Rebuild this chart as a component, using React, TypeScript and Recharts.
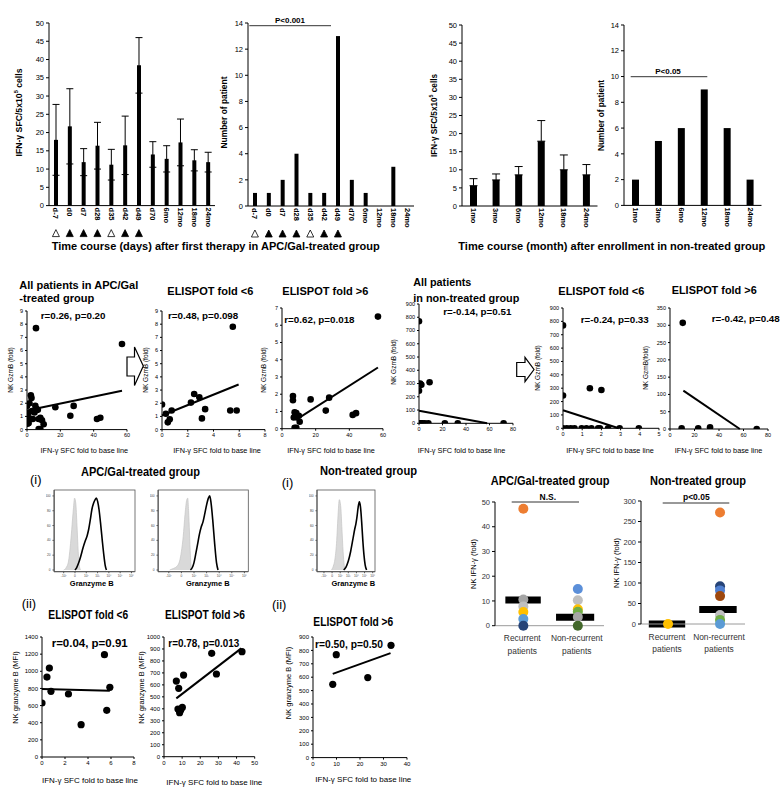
import React from 'react';
import {
  BarChart, Bar, XAxis, YAxis, ErrorBar,
  ScatterChart, Scatter, ReferenceLine,
  ComposedChart, Area, Line,
} from 'recharts';

const FONT = '"Liberation Sans", Arial, Helvetica, sans-serif';

// ---- A: time course bars ----
const dayCats = ['d-7', 'd0', 'd7', 'd28', 'd35', 'd42', 'd49', 'd70', '6mo', '12mo', '18mo', '24mo'];
const dayMarks = ['open', 'fill', 'fill', 'fill', 'open', 'fill', 'fill', '', '', '', '', ''];
const daySfc = [18, 21.7, 11.9, 16.4, 11.2, 16.5, 38.4, 14, 12.8, 17.3, 12.4, 11.9];
const daySfcErr = [9.7, 10.3, 3.7, 6.4, 4.2, 8, 7.6, 3.5, 3.6, 6.4, 2.9, 2.7];
const dayPeakCount = [1, 1, 2, 4, 1, 1, 13, 2, 1, 0, 3, 0];

const monthCats = ['1mo', '3mo', '6mo', '12mo', '18mo', '24mo'];
const monthSfc = [5.6, 7.2, 8.6, 17.9, 10, 8.6];
const monthSfcErr = [1.95, 1.65, 2.3, 5.7, 4.1, 2.85];
const monthPeakCount = [2, 5, 6, 9, 6, 2];

const sfcTicks = [0, 5, 10, 15, 20, 25, 30, 35, 40, 45, 50];
const countTicks = [0, 2, 4, 6, 8, 10, 12, 14];

// ---- B: NK GzmB vs IFN-g SFC fold ----
const apcAll = [[5.4, 7.7], [57, 6.5], [2.3, 2.6], [2.7, 2.4], [0, 1.8], [1.5, 2.0], [5, 1.8], [5.5, 1.6], [6.5, 1.5], [4.5, 1.3],
  [0.5, 1.2], [1.5, 0.85], [0.3, 0.45], [1, 0.5], [3, 1.4], [3.5, 0.8], [7, 0.8], [8, 0.9], [9, 0.7], [10, 0.4], [7, 0.05],
  [8, 0.05], [17, 1.7], [28, 1.8], [26, 1.05], [42, 0.8], [44, 0.9]];
const apcAllFit = [[0, 1.45], [57, 2.95]];
const apcLow = [[0, 1.9], [0.3, 1.2], [0.45, 0.55], [0.6, 0.78], [0.75, 1.45], [2.25, 2.05], [2.5, 2.7], [2.9, 2.45],
  [3.1, 0.85], [3.35, 1.55], [5.3, 1.45], [5.8, 1.45], [5.5, 7.8]];
const apcLowFit = [[0, 1.07], [5.95, 3.42]];
const apcHigh = [[6.5, 1.9], [6.5, 1.65], [7, 0.65], [7.5, 0.95], [8, 0.8], [8.5, 0.9], [7.5, 0.05], [8.5, 0.05], [10, 0.75],
  [10.5, 0.4], [17, 1.7], [26, 1.05], [28, 1.8], [42, 0.8], [44, 0.9], [57, 6.5]];
const apcHighFit = [[8, 0.5], [57, 3.55]];
const nonAll = [[0, 770], [0, 245], [1, 300], [2, 290], [9, 310], [0, 0], [1, 0], [2, 0], [3, 0], [5, 0], [8, 0], [22, 0], [33, 0], [72, 0]];
const nonAllFit = [[0, 95], [58, 0]];
const nonLow = [[0, 770], [0, 245], [1.4, 300], [2.0, 287], [0, 0], [0.2, 0], [0.4, 0], [0.6, 0], [0.97, 0], [1.22, 0], [1.48, 0],
  [1.83, 0], [1.92, 0], [2.35, 0], [2.95, 0], [3.95, 0]];
const nonLowFit = [[0, 135], [2.9, 0]];
const nonHigh = [[10.4, 307], [9.5, 2], [23, 2], [32.7, 5], [70.8, 0]];
const nonHighFit = [[10.9, 111], [57, 0]];

// ---- C: NK granzyme B MFI ----
const mfiApcLow = [[0, 630], [0.43, 933], [0.64, 1038], [0.78, 766], [2.3, 735], [3.4, 377], [5.43, 1194], [5.63, 545], [5.9, 813]];
const mfiApcLowFit = [[0, 793], [5.9, 772]];
const mfiApcHigh = [[6.8, 632], [8.1, 571], [7.7, 398], [9.2, 390], [8.6, 368], [10.1, 412], [10.8, 682], [26.3, 864], [28.9, 691], [43, 877]];
const mfiApcHighFit = [[6.8, 487], [42.6, 905]];
const mfiNonHigh = [[8.4, 547], [9.9, 768], [23.3, 597], [33.2, 838]];
const mfiNonHighFit = [[8.4, 625], [33, 780]];

// ---- flow histograms (% of max vs channel) ----
const isoApc1 = [[12, 0], [15, 3], [18, 12], [20, 30], [22, 55], [24, 82], [25.5, 97], [27, 90], [28.5, 60], [30, 25], [31.5, 5], [33, 0]];
const gzbApc1 = [[26, 0], [28, 3], [30, 8], [33, 18], [36, 30], [39, 40], [41, 46], [43, 55], [45, 68], [47, 82], [49, 90], [51, 95],
  [52.5, 97], [54, 93], [56, 80], [58, 60], [60, 38], [62, 18], [63.5, 6], [65, 0]];
const isoApc2 = [[13, 0], [17, 2], [21, 5], [24, 12], [26, 25], [28, 45], [30, 75], [32, 95], [33, 97], [34, 80], [35, 50], [36, 20], [37, 3], [38, 0]];
const gzbApc2 = [[36, 0], [38, 3], [40, 10], [42, 22], [44, 35], [46, 48], [48, 58], [50, 65], [52, 76], [54, 88], [56, 97], [57.5, 100],
  [59, 90], [61, 65], [63, 35], [65, 10], [66.7, 0]];
const isoNon = [[25, 0], [28, 5], [31, 15], [34, 40], [36, 70], [38.5, 95], [41, 85], [43, 55], [45, 25], [47, 6], [48.5, 0]];
const gzbNon = [[46, 0], [50, 4], [54, 12], [58, 25], [62, 42], [65, 55], [67, 62], [69, 72], [71, 85], [73, 92], [75, 85], [77, 65],
  [79, 40], [81, 20], [83, 7], [85.5, 0]];
const histYTicks = [0, 20, 40, 60, 80, 100];
const histXTicks = [12, 26, 40, 54, 68, 82, 96];
const histXLabels = ['-10²', '0', '10²', '10³', '10⁴', '10⁵', '10⁶'];

// ---- D: NK IFN-g fold, recurrent vs non-recurrent ----
const groupLabels = ['Recurrent patients', 'Non-recurrent patients'];
const apcRecurrent = [47.3, 10.6, 7.8, 5.5, 2.7, 0];
const apcRecurrentColors = ['#ED7D31', '#A5A5A5', '#BFBFBF', '#FFC000', '#5B9BD5', '#264478'];
const apcNonRecurrent = [14.8, 10.3, 6.6, 5.6, 3.5, 0];
const apcNonRecurrentColors = ['#5B8FD9', '#BFBFBF', '#FFC000', '#70AD47', '#A5A5A5', '#43682B'];
const apcMeans = [10.4, 3.4];
const nonRecurrent = [0];
const nonRecurrentColors = ['#FFC000'];
const nonNonRecurrent = [272, 92, 82, 68, 22, 10, 0];
const nonNonRecurrentColors = ['#ED7D31', '#264478', '#4F7FD0', '#9E480E', '#BFBFBF', '#70AD47', '#5B9BD5'];
const nonMeans = [0, 35.5];

const AX = { stroke: '#000', strokeWidth: 1 };
const tk = (fs: number, fill = '#000') => ({ fontSize: fs, fill, fontFamily: FONT });

// place a chart so that its plot area lands on box = [left, top, right, bottom]
function at(box: number[], yw: number, xh: number) {
  const [l, t, r, b] = box;
  const m = { top: 6, right: 6, bottom: 0, left: 0 };
  return {
    style: { position: 'absolute' as const, left: l - yw, top: t - m.top },
    width: r - l + yw + m.right,
    height: b - t + m.top + xh,
    margin: m,
  };
}

function CatTick(props: any) {
  const { x, y, payload, cats, marks } = props;
  const i = cats.indexOf(payload.value);
  const m = marks ? marks[i] : '';
  return (
    <g>
      <text x={x} y={y} transform={`rotate(90 ${x} ${y})`} textAnchor="start" dominantBaseline="central"
        fontSize={7.5} fontWeight={700} fontFamily={FONT} fill="#000">{payload.value}</text>
      {m && (
        <polygon points={`${x - 3.5},${y + 29} ${x + 3.5},${y + 29} ${x},${y + 22}`}
          fill={m === 'fill' ? '#000' : '#fff'} stroke="#000" strokeWidth={0.8} />
      )}
    </g>
  );
}

function BarPanel({ box, cats, vals, errs, ticks, bar, cap, marks }: any) {
  const data = cats.map((c: string, i: number) => ({ c, v: vals[i], e: errs ? errs[i] : 0 }));
  const p = at(box, 18, 40);
  return (
    <div style={p.style}>
      <BarChart width={p.width} height={p.height} margin={p.margin} data={data} barCategoryGap={0}>
        <XAxis dataKey="c" interval={0} tickLine={false} tickSize={0} tickMargin={2} axisLine={AX} height={40}
          tick={<CatTick cats={cats} marks={marks} />} />
        <YAxis domain={[0, ticks[ticks.length - 1]]} ticks={ticks} interval={0} width={18} tick={tk(7.5)}
          tickSize={3} axisLine={AX} tickLine={AX} />
        <Bar dataKey="v" fill="#000" barSize={bar} isAnimationActive={false}>
          {errs && <ErrorBar dataKey="e" width={cap} stroke="#000" strokeWidth={1} isAnimationActive={false} />}
        </Bar>
      </BarChart>
    </div>
  );
}

function ScatterPanel({ box, pts, fit, xd, xt, yd, yt, r = 3.3, fs = 5.5, yw = 16, lw = 2 }: any) {
  const p = at(box, yw, 12);
  return (
    <div style={p.style}>
      <ScatterChart width={p.width} height={p.height} margin={p.margin}>
        <XAxis type="number" dataKey="x" domain={xd} ticks={xt} interval={0} height={12} tick={tk(fs)}
          tickSize={2} axisLine={AX} tickLine={AX} allowDataOverflow />
        <YAxis type="number" dataKey="y" domain={yd} ticks={yt} interval={0} width={yw} tick={tk(fs)}
          tickSize={2} axisLine={AX} tickLine={AX} allowDataOverflow />
        <Scatter data={pts.map(([x, y]: number[]) => ({ x, y }))} isAnimationActive={false}
          shape={(s: any) => <circle cx={s.cx} cy={s.cy} r={r} fill="#000" />} />
        <ReferenceLine segment={[{ x: fit[0][0], y: fit[0][1] }, { x: fit[1][0], y: fit[1][1] }]}
          stroke="#000" strokeWidth={lw} ifOverflow="visible" />
      </ScatterChart>
    </div>
  );
}

function HistPanel({ box, iso, stain }: any) {
  const p = at(box, 8, 10);
  return (
    <div style={p.style}>
      <ComposedChart width={p.width} height={p.height} margin={p.margin}>
        <XAxis type="number" dataKey="x" domain={[0, 100]} ticks={histXTicks} interval={0} height={10}
          tick={tk(3.2, '#444')} tickSize={1.5} axisLine={{ stroke: '#555' }} tickLine={{ stroke: '#555' }}
          tickFormatter={(v: number) => histXLabels[histXTicks.indexOf(v)]} />
        <YAxis type="number" domain={[-2.3, 108]} ticks={histYTicks} interval={0} width={8} tick={tk(3.2, '#444')}
          tickSize={1.5} axisLine={{ stroke: '#555' }} tickLine={{ stroke: '#555' }} />
        <Area data={iso.map(([x, y]: number[]) => ({ x, y }))} dataKey="y" type="monotone" baseValue={0}
          fill="#d9d9d9" fillOpacity={1} stroke="#c4c4c4" strokeWidth={0.7} isAnimationActive={false} />
        <Line data={stain.map(([x, y]: number[]) => ({ x, y }))} dataKey="y" type="monotone" stroke="#000"
          strokeWidth={1.6} dot={false} isAnimationActive={false} />
      </ComposedChart>
    </div>
  );
}

function GroupTick({ x, y, payload }: any) {
  const [a, b] = groupLabels[payload.value < 1 ? 0 : 1].split(' ');
  return (
    <text x={x} y={y} textAnchor="middle" fontSize={8.4} fontFamily={FONT} fill="#333">
      <tspan x={x} dy={13.5}>{a}</tspan>
      <tspan x={x} dy={12.5}>{b}</tspan>
    </text>
  );
}

function DotPanel({ box, g1, c1, g2, c2, means, yt, bars }: any) {
  const pts = [
    ...g1.map((y: number, i: number) => ({ x: 0.52, y, c: c1[i] })),
    ...g2.map((y: number, i: number) => ({ x: 1.52, y, c: c2[i] })),
  ];
  const p = at(box, 18, 30);
  return (
    <div style={p.style}>
      <ScatterChart width={p.width} height={p.height} margin={p.margin}>
        <XAxis type="number" dataKey="x" domain={[0, 2]} ticks={[0.5, 1.5]} interval={0} height={30}
          tick={<GroupTick />} tickLine={false} tickSize={0} axisLine={{ stroke: '#9a9a9a' }} />
        <YAxis type="number" dataKey="y" domain={[0, yt[yt.length - 1]]} ticks={yt} interval={0} width={18}
          tick={tk(7.5, '#333')} tickSize={3} axisLine={AX} tickLine={AX} />
        <Scatter data={pts} isAnimationActive={false}
          shape={(s: any) => <circle cx={s.cx} cy={s.cy} r={5} fill={s.payload.c} />} />
        <ReferenceLine segment={[{ x: bars[0], y: means[0] }, { x: bars[1], y: means[0] }]} stroke="#000"
          strokeWidth={7} ifOverflow="visible" />
        <ReferenceLine segment={[{ x: bars[2], y: means[1] }, { x: bars[3], y: means[1] }]} stroke="#000"
          strokeWidth={7} ifOverflow="visible" />
      </ScatterChart>
    </div>
  );
}

function T({ x, y, s, b = true, a = 'start', len, rot, mid, children }: any) {
  return (
    <text x={x} y={y} fontSize={s} fontWeight={b ? 700 : 400} textAnchor={a} fontFamily={FONT} fill="#000"
      textLength={len} lengthAdjust={len ? 'spacingAndGlyphs' : undefined}
      dominantBaseline={mid ? 'central' : undefined}
      transform={rot ? `rotate(-90 ${x} ${y})` : undefined}>{children}</text>
  );
}

const SFC_LABEL = (
  <>IFN-γ SFC/5x10<tspan dy={-3} fontSize={5.5}>5</tspan><tspan dy={3}> cells</tspan></>
);

function Overlay() {
  const xl = 'IFN-γ SFC fold to base line';
  return (
    <svg width={781} height={787} style={{ position: 'absolute', left: 0, top: 0, pointerEvents: 'none' }}>
      {/* top row */}
      <T x={19} y={112.5} s={8.5} rot mid a="middle" len={88}>{SFC_LABEL}</T>
      <T x={223.5} y={112.5} s={8.5} rot mid a="middle" len={72}>Number of patient</T>
      <T x={433.5} y={115.5} s={8.5} rot mid a="middle" len={83}>{SFC_LABEL}</T>
      <T x={601} y={115.5} s={8.5} rot mid a="middle" len={71}>Number of patient</T>
      <T x={290} y={23} s={8} a="middle">P&lt;0.001</T>
      <line x1={249.3} x2={331} y1={25.7} y2={25.7} stroke="#333" strokeWidth={1} />
      <T x={668} y={74} s={8} a="middle">P&lt;0.05</T>
      <line x1={630.7} x2={707.3} y1={76.7} y2={76.7} stroke="#333" strokeWidth={1} />
      <T x={51.7} y={249.5} s={10} len={328}>Time course (days) after first therapy in APC/Gal-treated group</T>
      <T x={458.3} y={249.5} s={10} len={307}>Time course (month) after enrollment in non-treated group</T>

      {/* middle row */}
      <T x={19.3} y={289} s={11.5} len={119}>All patients in APC/Gal</T>
      <T x={19.3} y={302} s={11.5} len={75}>-treated group</T>
      <T x={167.3} y={294.5} s={11.5} len={86}>ELISPOT fold &lt;6</T>
      <T x={282.3} y={294.5} s={11.5} len={86}>ELISPOT fold &gt;6</T>
      <T x={413.3} y={285.5} s={11.5} len={58}>All patients</T>
      <T x={413.3} y={302} s={11.5} len={106}>in non-treated group</T>
      <T x={558.3} y={294.5} s={11.5} len={86}>ELISPOT fold &lt;6</T>
      <T x={671.7} y={294} s={11.5} len={85}>ELISPOT fold &gt;6</T>
      <T x={40.7} y={319} s={9.8}>r=0.26, p=0.20</T>
      <T x={168} y={319} s={9.8}>r=0.48, p=0.098</T>
      <T x={284.3} y={322.7} s={9.8}>r=0.62, p=0.018</T>
      <T x={443.3} y={315} s={9.8}>r=-0.14, p=0.51</T>
      <T x={580.7} y={323.3} s={9.8}>r=-0.24, p=0.33</T>
      <T x={711.7} y={321.7} s={9.8}>r=-0.42, p=0.48</T>
      {[84.3, 217, 331, 461.5, 610, 718.5].map((x) => (
        <T key={x} x={x} y={453} s={7.3} b={false} a="middle">{xl}</T>
      ))}
      {[[10, 370], [145, 370], [263.5, 370], [393, 362], [537, 368], [645, 368]].map(([x, y], i) => (
        <T key={i} x={x} y={y} s={6.5} b={false} rot mid a="middle">{i === 5 ? 'NK GzmB(fold)' : 'NK GzmB (fold)'}</T>
      ))}
      <polygon points="127,357 134.5,357 134.5,347 143.3,366 134.5,385.5 134.5,376 127,376" fill="#fff" stroke="#000" strokeWidth={1.2} />
      <polygon points="516.7,362.5 525,362.5 525,357.3 534,369.5 525,381.7 525,376.5 516.7,376.5" fill="#fff" stroke="#000" strokeWidth={1.2} />

      {/* histograms */}
      <T x={30} y={484} s={13} b={false}>(i)</T>
      <T x={81} y={476} s={12.5} len={119}>APC/Gal-treated group</T>
      <T x={281.7} y={486.5} s={13} b={false}>(i)</T>
      <T x={320} y={475} s={12.5} len={97}>Non-treated group</T>
      <rect x={54.3} y={490} width={80.7} height={81.7} fill="none" stroke="#555" strokeWidth={0.8} />
      <rect x={158.3} y={490} width={90} height={81.7} fill="none" stroke="#555" strokeWidth={0.8} />
      <rect x={317} y={490} width={58} height={81.7} fill="none" stroke="#555" strokeWidth={0.8} />
      <T x={91.7} y={586} s={7.5} a="middle">Granzyme B</T>
      <T x={207.8} y={586} s={7.5} a="middle">Granzyme B</T>
      <T x={353.3} y={585.7} s={7.5} a="middle">Granzyme B</T>

      {/* bottom scatter */}
      <T x={21.7} y={608} s={13} b={false}>(ii)</T>
      <T x={272} y={609} s={13} b={false}>(ii)</T>
      <T x={48.3} y={618.5} s={12.5} len={80}>ELISPOT fold &lt;6</T>
      <T x={165} y={618.5} s={12.5} len={80}>ELISPOT fold &gt;6</T>
      <T x={313.3} y={626} s={12.5} len={80}>ELISPOT fold &gt;6</T>
      <T x={51.7} y={647.3} s={11.5} len={76}>r=0.04, p=0.91</T>
      <T x={168.3} y={647} s={11} len={71}>r=0.78, p=0.013</T>
      <T x={315} y={648.3} s={11} len={68}>r=0.50, p=0.50</T>
      <T x={90} y={783.3} s={8} b={false} a="middle">{xl}</T>
      <T x={214.3} y={785} s={8} b={false} a="middle">{xl}</T>
      <T x={363.3} y={781.7} s={8} b={false} a="middle">{xl}</T>
      <T x={15} y={687.5} s={7.5} b={false} rot mid a="middle">NK granzyme B (MFI)</T>
      <T x={141.7} y={687.5} s={7.5} b={false} rot mid a="middle">NK granzyme B (MFI)</T>
      <T x={288.3} y={683} s={7.5} b={false} rot mid a="middle">NK granzyme B (MFI)</T>

      {/* D */}
      <T x={490.7} y={485} s={12.5} len={118.7}>APC/Gal-treated group</T>
      <T x={650} y={485} s={12.5} len={96}>Non-treated group</T>
      <T x={547.8} y={500} s={8.5} a="middle">N.S.</T>
      <line x1={511.7} x2={579} y1={502} y2={502} stroke="#333" strokeWidth={1} />
      <T x={696.3} y={500} s={8.5} a="middle">p&lt;0.05</T>
      <line x1={662.7} x2={729.3} y1={503} y2={503} stroke="#333" strokeWidth={1} />
      <T x={473} y={564} s={7.5} b={false} rot mid a="middle">NK IFN-γ (fold)</T>
      <T x={616} y={563} s={7.5} b={false} rot mid a="middle">NK IFN-γ (fold)</T>
    </svg>
  );
}

export default function App() {
  return (
    <div style={{ position: 'absolute', left: 0, top: 0, width: 781, height: 787, background: '#fff', fontFamily: FONT, overflow: 'hidden' }}>
      <BarPanel box={[48.5, 23, 214.5, 205.6]} cats={dayCats} vals={daySfc} errs={daySfcErr} ticks={sfcTicks} bar={4} cap={3.5} marks={dayMarks} />
      <BarPanel box={[248, 23, 414, 206]} cats={dayCats} vals={dayPeakCount} ticks={countTicks} bar={4} marks={dayMarks} />
      <BarPanel box={[462, 25, 597.5, 206]} cats={monthCats} vals={monthSfc} errs={monthSfcErr.map((e) => [0, e])} ticks={sfcTicks} bar={7} cap={4} />
      <BarPanel box={[623.5, 25.3, 761, 205.7]} cats={monthCats} vals={monthPeakCount} ticks={countTicks} bar={7} />

      <ScatterPanel box={[27, 310.7, 127, 429.3]} pts={apcAll} fit={apcAllFit} xd={[0, 60]} xt={[0, 20, 40, 60]} yd={[0, 9]} yt={[0, 1, 2, 3, 4, 5, 6, 7, 8, 9]} />
      <ScatterPanel box={[162, 310.7, 265, 429.3]} pts={apcLow} fit={apcLowFit} xd={[0, 8]} xt={[0, 2, 4, 6, 8]} yd={[0, 9]} yt={[0, 1, 2, 3, 4, 5, 6, 7, 8, 9]} />
      <ScatterPanel box={[282, 308, 383, 428.7]} pts={apcHigh} fit={apcHighFit} xd={[0, 60]} xt={[0, 20, 40, 60]} yd={[0, 7]} yt={[0, 1, 2, 3, 4, 5, 6, 7]} />
      <ScatterPanel box={[419, 304, 513, 423.3]} pts={nonAll} fit={nonAllFit} xd={[0, 80]} xt={[0, 20, 40, 60, 80]} yd={[0, 900]} yt={[0, 100, 200, 300, 400, 500, 600, 700, 800, 900]} />
      <ScatterPanel box={[563, 308, 659, 428.3]} pts={nonLow} fit={nonLowFit} xd={[0, 5]} xt={[0, 1, 2, 3, 4, 5]} yd={[0, 900]} yt={[0, 100, 200, 300, 400, 500, 600, 700, 800, 900]} />
      <ScatterPanel box={[670, 308, 768, 429]} pts={nonHigh} fit={nonHighFit} xd={[0, 80]} xt={[0, 20, 40, 60, 80]} yd={[0, 350]} yt={[0, 50, 100, 150, 200, 250, 300, 350]} />

      <HistPanel box={[54.3, 490, 135, 571.7]} iso={isoApc1} stain={gzbApc1} />
      <HistPanel box={[158.3, 490, 248.3, 571.7]} iso={isoApc2} stain={gzbApc2} />
      <HistPanel box={[317, 490, 375, 571.7]} iso={isoNon} stain={gzbNon} />

      <ScatterPanel box={[42, 637.3, 134, 757.3]} pts={mfiApcLow} fit={mfiApcLowFit} xd={[0, 8]} xt={[0, 2, 4, 6, 8]} yd={[0, 1400]} yt={[0, 200, 400, 600, 800, 1000, 1200, 1400]} fs={6} yw={18} r={3.6} />
      <ScatterPanel box={[164.3, 637, 255, 756.7]} pts={mfiApcHigh} fit={mfiApcHighFit} xd={[0, 50]} xt={[0, 10, 20, 30, 40, 50]} yd={[0, 1000]} yt={[0, 100, 200, 300, 400, 500, 600, 700, 800, 900, 1000]} fs={6} yw={18} r={3.6} />
      <ScatterPanel box={[312.7, 636.7, 406.7, 757.3]} pts={mfiNonHigh} fit={mfiNonHighFit} xd={[0, 40]} xt={[0, 10, 20, 30, 40]} yd={[0, 900]} yt={[0, 100, 200, 300, 400, 500, 600, 700, 800, 900]} fs={6} yw={18} r={3.6} />

      <DotPanel box={[495, 502, 604, 625.7]} g1={apcRecurrent} c1={apcRecurrentColors} g2={apcNonRecurrent} c2={apcNonRecurrentColors}
        means={apcMeans} yt={[0, 10, 20, 30, 40, 50]} bars={[0.19, 0.84, 1.12, 1.82]} />
      <DotPanel box={[641, 501.3, 745, 624.3]} g1={nonRecurrent} c1={nonRecurrentColors} g2={nonNonRecurrent} c2={nonNonRecurrentColors}
        means={nonMeans} yt={[0, 50, 100, 150, 200, 250, 300]} bars={[0.15, 0.85, 1.12, 1.84]} />

      <Overlay />
    </div>
  );
}
